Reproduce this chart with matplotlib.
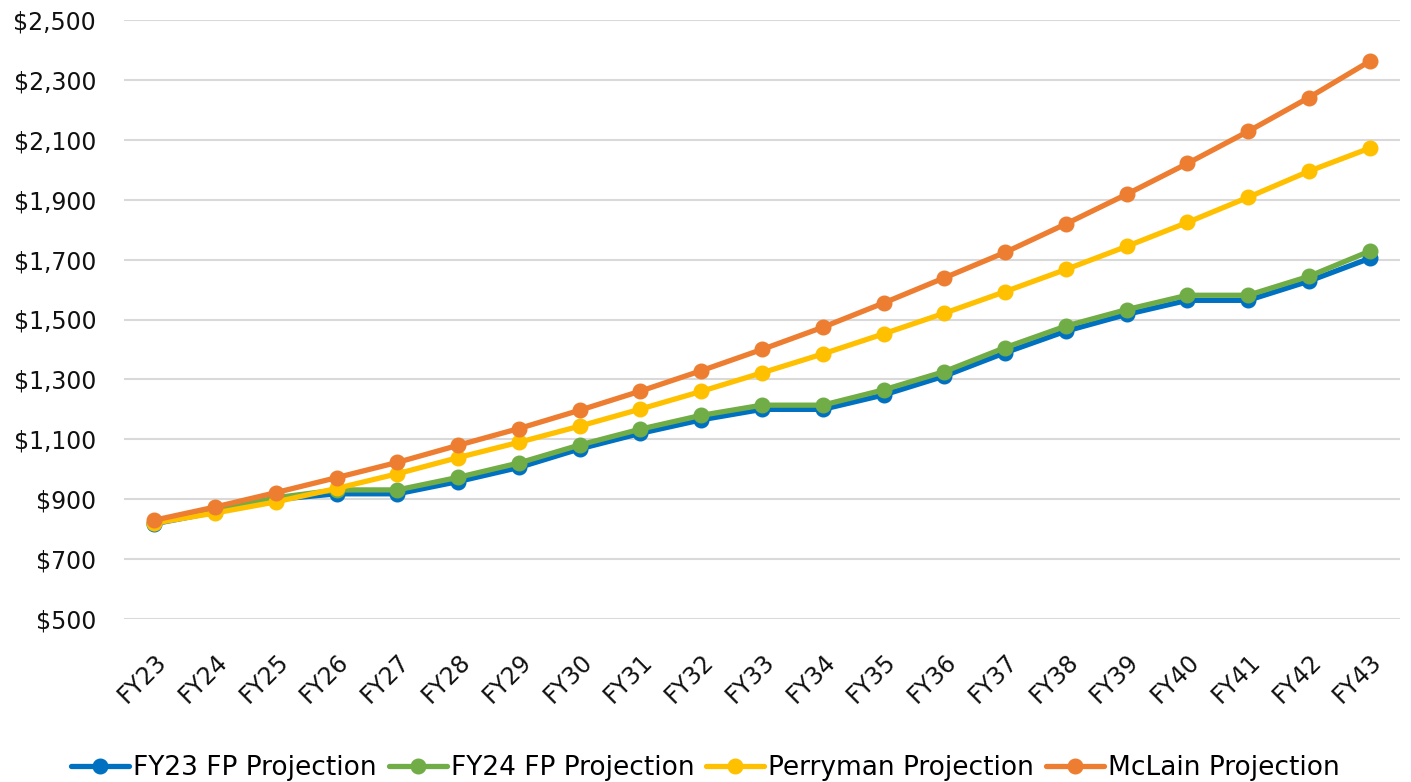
import matplotlib
matplotlib.use("Agg")
import matplotlib.pyplot as plt
from matplotlib.ticker import FuncFormatter

years = ["FY23", "FY24", "FY25", "FY26", "FY27", "FY28", "FY29", "FY30", "FY31", "FY32", "FY33",
         "FY34", "FY35", "FY36", "FY37", "FY38", "FY39", "FY40", "FY41", "FY42", "FY43"]
fy23_fp = [818, 857, 899, 918, 918, 959, 1006, 1068, 1120, 1165, 1200,
           1200, 1248, 1311, 1389, 1461, 1517, 1564, 1564, 1628, 1704]
fy24_fp = [822, 861, 905, 931, 931, 973, 1021, 1081, 1134, 1180, 1214,
           1214, 1265, 1326, 1406, 1478, 1533, 1581, 1581, 1644, 1728]
perryman = [820, 854, 891, 936, 985, 1039, 1090, 1144, 1201, 1260, 1322,
            1385, 1452, 1521, 1593, 1667, 1744, 1824, 1908, 1995, 2072]
mclain = [830, 874, 922, 972, 1023, 1080, 1136, 1197, 1261, 1329, 1400,
          1474, 1555, 1639, 1724, 1819, 1918, 2021, 2128, 2241, 2362]

series = [
    ("FY23 FP Projection", fy23_fp, "#0070C0"),
    ("FY24 FP Projection", fy24_fp, "#70AD47"),
    ("Perryman Projection", perryman, "#FFC000"),
    ("McLain Projection", mclain, "#ED7D31"),
]

plt.rcParams['font.family'] = ['DejaVu Sans']

fig = plt.figure(figsize=(14.11, 7.82), dpi=100)
ax = fig.add_axes([124/1411, 1 - 619/782, (1400-124)/1411, (619-20)/782])

x = list(range(len(years)))
for name, vals, col in series:
    ax.plot(x, vals, color=col, lw=3.8, marker="o", markersize=10.5, label=name,
            solid_capstyle="round", zorder=3)

ax.set_xlim(-0.5, len(years) - 0.5)
ax.set_ylim(500, 2500)
ax.set_yticks(range(500, 2501, 200))
ax.yaxis.set_major_formatter(FuncFormatter(lambda v, p: f"${v:,.0f}"))
ax.set_xticks(x)
ax.set_xticklabels(years, rotation=45, ha="right", va="top", rotation_mode="anchor")
ax.tick_params(axis="both", length=0, labelsize=17, colors="#111111")
ax.tick_params(axis="x", pad=22)
ax.tick_params(axis="y", pad=20)
ax.grid(axis="y", color="#d9d9d9", lw=1.5, zorder=0)
for s in ax.spines.values():
    s.set_visible(False)

fig.legend(loc="lower center", ncol=4, frameon=False, fontsize=19,
           bbox_to_anchor=(0.5, -0.029), handlelength=2.2, handletextpad=0.15,
           columnspacing=0.45)

fig.savefig("out.png", dpi=100)
